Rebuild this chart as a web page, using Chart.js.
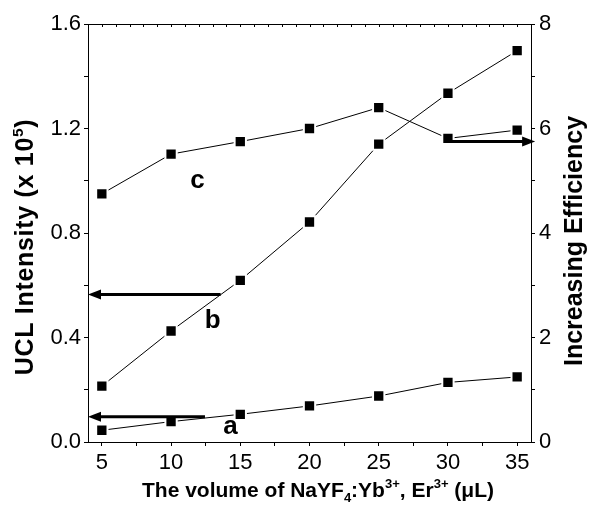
<!DOCTYPE html>
<html>
<head>
<meta charset="utf-8">
<script src="https://cdn.jsdelivr.net/npm/chart.js@4/dist/chart.umd.min.js"></script>
<style>
html,body{margin:0;padding:0;background:#fff;}
canvas{display:block;}
</style>
</head>
<body>
<canvas id="c" width="591" height="513"></canvas>
<script>
// ---- data ----
const volumes = [5, 10, 15, 20, 25, 30, 35];
const seriesA = [0.045, 0.078, 0.106, 0.138, 0.176, 0.228, 0.249];   // left axis
const seriesB = [0.214, 0.425, 0.619, 0.842, 1.14, 1.335, 1.498];    // left axis
const seriesC = [4.75, 5.51, 5.75, 6.00, 6.40, 5.81, 5.97];          // right axis
const xTickLabels = [5, 10, 15, 20, 25, 30, 35];
const leftTickLabels = [0.0, 0.4, 0.8, 1.2, 1.6];
const rightTickLabels = [0, 2, 4, 6, 8];
// arrows: [xFrom, xTo, yValue]
const arrowA = [12.45, 4, 0.097];   // left axis
const arrowB = [13.58, 4, 0.565];   // left axis
const arrowC = [30, 36.3, 5.75];    // right axis
// series letters: [x, y]
const labelA = [14.3, 0.057];
const labelB = [13.0, 0.463];
const labelC = [11.9, 5.0];

const FONT = '"Liberation Sans", Arial, sans-serif';

function pts(ys) { return volumes.map((x, i) => ({x: x, y: ys[i]})); }

function drawRich(ctx, segs, size) {
  let total = 0;
  const meas = segs.map(s => {
    const fs = s.s ? size * 0.62 : size;
    ctx.font = 'bold ' + fs + 'px ' + FONT;
    const w = ctx.measureText(s.t).width;
    total += w;
    return {fs, w};
  });
  let x = -total / 2;
  segs.forEach((s, i) => {
    ctx.font = 'bold ' + meas[i].fs + 'px ' + FONT;
    let dy = 0;
    if (s.s === 'sup') dy = -size * 0.42;
    if (s.s === 'sub') dy = size * 0.22;
    ctx.fillText(s.t, x, dy);
    x += meas[i].w;
  });
  return total;
}

const extras = {
  id: 'extras',
  beforeDraw(chart) {
    const ctx = chart.ctx;
    ctx.save();
    ctx.fillStyle = '#fff';
    ctx.fillRect(0, 0, chart.width, chart.height);
    ctx.restore();
  },
  afterDatasetsDraw(chart) {
    const ctx = chart.ctx;
    const xs = chart.scales.x, yl = chart.scales.y, yr = chart.scales.y1;
    const ca = chart.chartArea;
    ctx.save();
    ctx.strokeStyle = '#000';
    ctx.fillStyle = '#000';
    // top frame + inward ticks
    ctx.lineWidth = 1;
    ctx.beginPath();
    ctx.moveTo(ca.left, ca.top + 0.5);
    ctx.lineTo(ca.right, ca.top + 0.5);
    for (let v = 5; v <= 35; v++) {
      const px = Math.round(xs.getPixelForValue(v)) + 0.5;
      ctx.moveTo(px, ca.top);
      ctx.lineTo(px, ca.top + 3);
    }
    ctx.stroke();

    // arrows
    function arrow(a, scale) {
      const x1 = xs.getPixelForValue(a[0]);
      const x2 = xs.getPixelForValue(a[1]);
      const y = scale.getPixelForValue(a[2]);
      const dir = Math.sign(x2 - x1);
      const headLen = 13, headHalf = 5;
      ctx.lineWidth = 3;
      ctx.beginPath();
      ctx.moveTo(x1, y);
      ctx.lineTo(x2 - dir * headLen + dir * 1, y);
      ctx.stroke();
      ctx.beginPath();
      ctx.moveTo(x2, y);
      ctx.lineTo(x2 - dir * headLen, y - headHalf);
      ctx.lineTo(x2 - dir * headLen, y + headHalf);
      ctx.closePath();
      ctx.fill();
    }
    arrow(arrowA, yl);
    arrow(arrowB, yl);
    arrow(arrowC, yr);

    // series letters
    ctx.font = 'bold 26px ' + FONT;
    ctx.textAlign = 'center';
    ctx.textBaseline = 'middle';
    ctx.fillText('a', xs.getPixelForValue(labelA[0]), yl.getPixelForValue(labelA[1]));
    ctx.fillText('b', xs.getPixelForValue(labelB[0]), yl.getPixelForValue(labelB[1]));
    ctx.fillText('c', xs.getPixelForValue(labelC[0]), yr.getPixelForValue(labelC[1]));

    // axis titles
    ctx.textAlign = 'left';
    ctx.textBaseline = 'alphabetic';
    ctx.save();
    ctx.translate(318, 497);
    drawRich(ctx, [
      {t: 'The volume of NaYF'}, {t: '4', s: 'sub'}, {t: ':Yb'}, {t: '3+', s: 'sup'},
      {t: ', Er'}, {t: '3+', s: 'sup'}, {t: ' (\u03BCL)'}
    ], 21);
    ctx.restore();
    ctx.save();
    ctx.translate(33, 247);
    ctx.rotate(-Math.PI / 2);
    ctx.letterSpacing = '0.7px';
    drawRich(ctx, [{t: 'UCL Intensity (x 10'}, {t: '5', s: 'sup'}, {t: ')'}], 25);
    ctx.restore();
    ctx.save();
    ctx.translate(582, 241);
    ctx.rotate(-Math.PI / 2);
    drawRich(ctx, [{t: 'Increasing Efficiency'}], 25);
    ctx.restore();

    ctx.restore();
  }
};

const minorX = [];
for (let i = 0; i < xTickLabels.length; i++) {
  minorX.push(xTickLabels[i]);
  if (i < xTickLabels.length - 1) minorX.push((xTickLabels[i] + xTickLabels[i + 1]) / 2);
}
const minorL = [];
for (let i = 0; i < leftTickLabels.length; i++) {
  minorL.push(leftTickLabels[i]);
  if (i < leftTickLabels.length - 1) minorL.push((leftTickLabels[i] + leftTickLabels[i + 1]) / 2);
}
const minorR = [];
for (let i = 0; i < rightTickLabels.length; i++) {
  minorR.push(rightTickLabels[i]);
  if (i < rightTickLabels.length - 1) minorR.push((rightTickLabels[i] + rightTickLabels[i + 1]) / 2);
}

const tickFont = {family: FONT, size: 22};
const gridCommon = {drawOnChartArea: false, drawTicks: true, tickLength: 4, color: '#000', lineWidth: 1};

function ds(data, axis) {
  return {
    data: pts(data), yAxisID: axis, showLine: true,
    borderColor: '#000', borderWidth: 1,
    pointStyle: 'rect', pointRadius: 8, pointHoverRadius: 8,
    pointBackgroundColor: '#000', pointBorderColor: '#fff', pointBorderWidth: 2,
    clip: false
  };
}

new Chart(document.getElementById('c'), {
  type: 'scatter',
  data: {
    datasets: [ds(seriesC, 'y1'), ds(seriesB, 'y'), ds(seriesA, 'y')]
  },
  options: {
    responsive: false,
    animation: false,
    events: [],
    layout: {padding: {top: 24, left: 0, right: 0, bottom: 0}},
    plugins: {legend: {display: false}, tooltip: {enabled: false}},
    scales: {
      x: {
        type: 'linear', position: 'bottom', min: 4, max: 36,
        afterBuildTicks(s) { s.ticks = minorX.map(v => ({value: v})); },
        afterFit(s) { s.height = 71; },
        ticks: {
          font: tickFont, color: '#000', padding: 4, maxRotation: 0, autoSkip: false,
          callback: v => xTickLabels.includes(v) ? String(v) : ''
        },
        grid: gridCommon,
        border: {display: true, color: '#000', width: 1}
      },
      y: {
        type: 'linear', position: 'left', min: 0, max: 1.6,
        afterBuildTicks(s) { s.ticks = minorL.map(v => ({value: v})); },
        afterFit(s) { s.width = 88; },
        ticks: {
          font: tickFont, color: '#000', padding: 3, autoSkip: false,
          callback: v => leftTickLabels.some(t => Math.abs(t - v) < 1e-9) ? v.toFixed(1) : ''
        },
        grid: gridCommon,
        border: {display: true, color: '#000', width: 1}
      },
      y1: {
        type: 'linear', position: 'right', min: 0, max: 8,
        afterBuildTicks(s) { s.ticks = minorR.map(v => ({value: v})); },
        afterFit(s) { s.width = 60; },
        ticks: {
          font: tickFont, color: '#000', padding: 4, autoSkip: false,
          callback: v => rightTickLabels.includes(v) ? String(v) : ''
        },
        grid: gridCommon,
        border: {display: true, color: '#000', width: 1}
      }
    }
  },
  plugins: [extras]
});
</script>
</body>
</html>
